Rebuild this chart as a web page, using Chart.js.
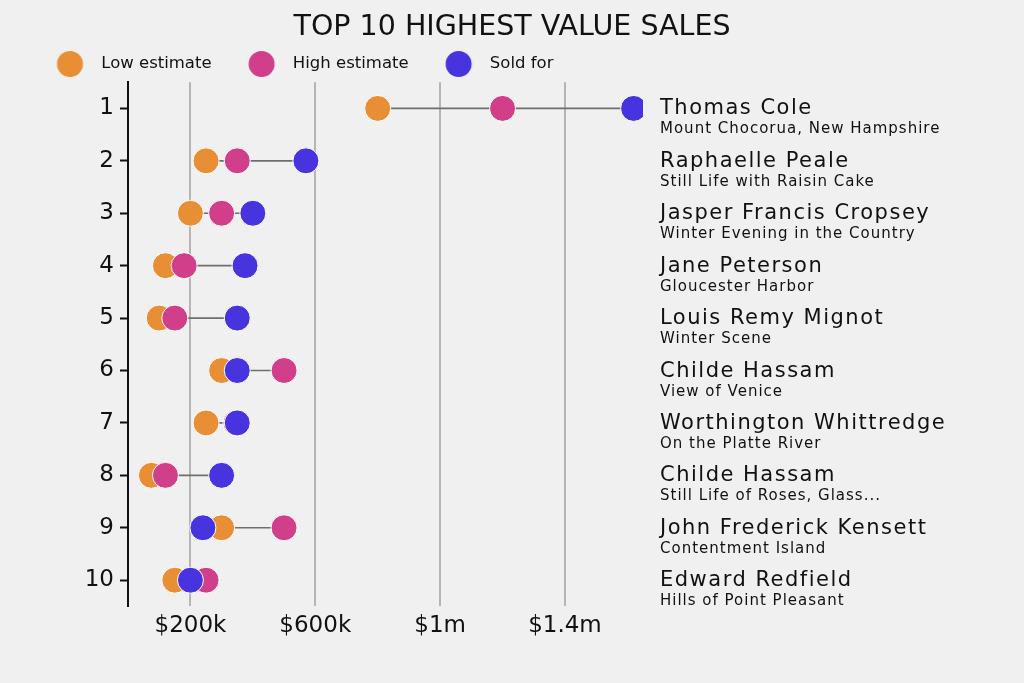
<!DOCTYPE html>
<html><head><meta charset="utf-8">
<script src="https://cdn.jsdelivr.net/npm/chart.js@4.4.1/dist/chart.umd.min.js"></script>
<style>html,body{margin:0;padding:0;background:#f0f0f0;overflow:hidden}</style>
</head><body><canvas id="c" width="1024" height="683"></canvas>
<script>
const ranks = ['1','2','3','4','5','6','7','8','9','10'];
const artists = ['Thomas Cole','Raphaelle Peale','Jasper Francis Cropsey','Jane Peterson','Louis Remy Mignot','Childe Hassam','Worthington Whittredge','Childe Hassam','John Frederick Kensett','Edward Redfield'];
const works = ['Mount Chocorua, New Hampshire','Still Life with Raisin Cake','Winter Evening in the Country','Gloucester Harbor','Winter Scene','View of Venice','On the Platte River','Still Life of Roses, Glass...','Contentment Island','Hills of Point Pleasant'];
// values in thousands of dollars
const lowEstimate  = [800, 250, 200, 120, 100, 300, 250, 75, 300, 150];
const highEstimate = [1200, 350, 300, 180, 150, 500, 346, 120, 500, 250];
const soldFor      = [1620, 570, 400, 375, 350, 350, 350, 300, 240, 200];
const xTickValues = [200, 600, 1000, 1400];
const xTickLabels = ['$200k', '$600k', '$1m', '$1.4m'];
const seriesNames = ['Low estimate', 'High estimate', 'Sold for'];
const seriesColors = ['#E88E34', '#D13E8A', '#4834DE'];

function legendDot(color){
  const c = document.createElement('canvas');
  c.width = 60; c.height = 28;
  const g = c.getContext('2d');
  g.fillStyle = color; g.beginPath(); g.arc(38.5, 14, 13, 0, Math.PI*2); g.fill();
  return c;
}
const dots = seriesColors.map(legendDot);

const rangeData = ranks.map((_, i) => {
  const v = [lowEstimate[i], highEstimate[i], soldFor[i]];
  return [Math.min(...v), Math.max(...v)];
});

function pointSet(label, data, color, order){
  return {type:'line', label, data, showLine:false, pointRadius:13, pointHoverRadius:13,
    pointBackgroundColor:color, pointBorderColor:'#ffffff', pointBorderWidth:1,
    backgroundColor:color, borderColor:color, order};
}

const rightLabels = {
  id:'rightLabels',
  afterDraw(chart){
    const ctx = chart.ctx, ys = chart.scales.y, x = chart.chartArea.right + 17;
    ctx.save(); ctx.fillStyle = '#111'; ctx.textAlign = 'left'; ctx.textBaseline = 'alphabetic';
    artists.forEach((name, i) => {
      const y = ys.getPixelForValue(i);
      ctx.font = '21px "DejaVu Sans"'; ctx.letterSpacing = '1.5px'; ctx.fillText(name, x, y + 6);
      ctx.font = '15px "DejaVu Sans"'; ctx.letterSpacing = '1px'; ctx.fillText(works[i], x, y + 25);
    });
    ctx.letterSpacing = '0px';
    ctx.restore();
  }
};

new Chart(document.getElementById('c'), {
  data: {
    labels: ranks,
    datasets: [
      {type:'bar', label:'range', data: rangeData, backgroundColor:'#6e6e6e', barThickness:1, order:10},
      pointSet(seriesNames[0], lowEstimate, seriesColors[0], 3),
      pointSet(seriesNames[1], highEstimate, seriesColors[1], 2),
      pointSet(seriesNames[2], soldFor, seriesColors[2], 1)
    ]
  },
  options: {
    indexAxis:'y', responsive:false, animation:false, events:[],
    layout:{padding:{left:20, right:20, top:0, bottom:37}},
    plugins:{
      tooltip:{enabled:false},
      title:{display:true, text:'TOP 10 HIGHEST VALUE SALES', color:'#111',
        font:{family:'DejaVu Sans', size:28.5, weight:'normal'}, padding:{top:10.5, bottom:1}},
      legend:{position:'top', align:'start',
        labels:{usePointStyle:true, pointStyleWidth:63, padding:10, color:'#111',
          font:{family:'DejaVu Sans', size:16.5},
          generateLabels(chart){
            const items = Chart.defaults.plugins.legend.labels.generateLabels(chart);
            return items.filter(it => it.datasetIndex > 0)
              .sort((a,b) => a.datasetIndex - b.datasetIndex)
              .map(it => Object.assign(it, {pointStyle: dots[it.datasetIndex - 1]}));
          }
        }
      }
    },
    scales:{
      x:{type:'linear', min:0, max:1650,
        afterBuildTicks(s){ s.ticks = xTickValues.map(v => ({value:v})); },
        ticks:{callback:(v, i) => xTickLabels[i], font:{family:'DejaVu Sans', size:23}, color:'#111', padding:6, maxRotation:0, autoSkip:false},
        grid:{color:'#b5b5b5', lineWidth:2, drawTicks:false}, border:{display:false}},
      y:{type:'category', labels:ranks, offset:true, position:'left',
        grid:{offset:false, drawOnChartArea:false, drawTicks:true, tickLength:8, tickColor:'#111', tickWidth:2},
        border:{display:true, color:'#111', width:2},
        ticks:{font:{family:'DejaVu Sans', size:23}, color:'#111', padding:6},
        afterFit(s){ s.width = 108; }},
      y2:{type:'category', labels:ranks, offset:true, position:'right', display:true,
        grid:{display:false}, border:{display:false}, ticks:{display:false},
        afterFit(s){ s.width = 361; }}
    }
  },
  plugins:[rightLabels]
});
</script></body></html>
